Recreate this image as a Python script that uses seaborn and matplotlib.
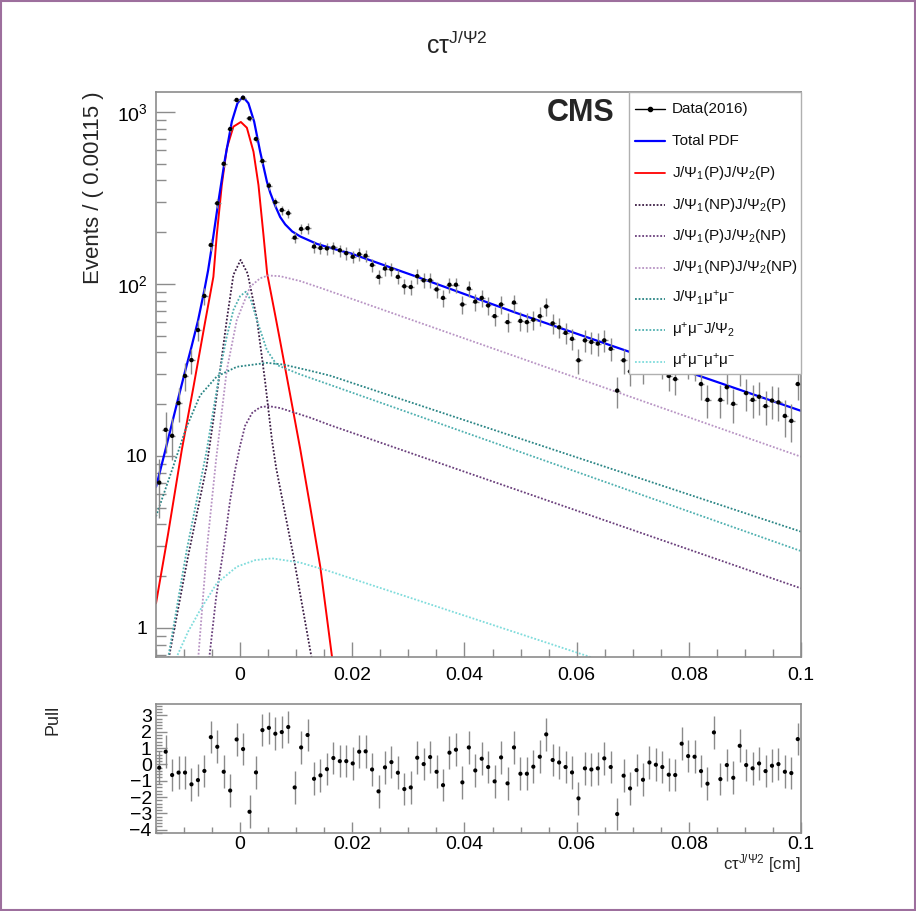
import numpy as np
import matplotlib
matplotlib.use("Agg")
import matplotlib.pyplot as plt
import seaborn as sns
from matplotlib.ticker import FixedLocator, FixedFormatter, LogLocator, MultipleLocator, NullFormatter
from matplotlib.patches import Rectangle
from matplotlib.lines import Line2D

# ---------------- data ----------------
x_lo, x_hi, n_bins = -0.015, 0.1, 100
bin_width = 0.00115

data_counts = [7.0, 14.2, 13.1, 20.3, 29.2, 36.1, 54.0, 85.2, 168.6, 294.5,
               500, 796, 1175, 1211, 918, 697, 519, 373, 299, 269,
               258, 186, 209, 211, 165, 162, 161, 163, 157, 151,
               144, 149, 146, 129, 110, 123, 122, 110, 97, 96,
               111, 105, 105, 93, 83, 99, 99, 76, 94, 79,
               83, 75, 65, 76, 60, 78, 61, 60, 62, 65,
               74, 59, 56, 52, 48, 36, 47, 46, 45, 47,
               42, 24, 36, 31, 37, 32, 37.5, 36, 34, 29.2,
               28.0, 39, 34, 33, 26.2, 21.2, 38.5, 21.2, 25.1, 20.1,
               31, 23.2, 21.2, 22.1, 19.5, 21, 20.5, 17.1, 16.0, 26.2]

pull_values = [-0.2, 0.78, -0.65, -0.5, -0.5, -1.22, -0.96, -0.4, 1.67, 1.08,
               -0.45, -1.6, 1.53, 0.94, -2.9, -0.49, 2.1, 2.24, 1.88, 1.98,
               2.29, -1.41, 1.04, 1.8, -0.88, -0.67, -0.29, 0.39, 0.2, 0.2,
               0.06, 0.78, 0.8, -0.31, -1.65, -0.18, 0.14, -0.51, -1.51, -1.41,
               0.41, 0.02, 0.45, -0.45, -1.27, 0.72, 0.9, -1.1, 1.04, -0.37,
               0.35, -0.16, -1.04, 0.43, -1.16, 1.04, -0.57, -0.57, -0.14, 0.47,
               1.84, 0.27, 0.12, -0.16, -0.49, -2.08, -0.24, -0.31, -0.24, 0.37,
               -0.16, -3.04, -0.69, -1.47, -0.35, -0.94, 0.12, -0.02, -0.16, -0.63,
               -0.65, 1.27, 0.51, 0.47, -0.41, -1.18, 1.96, -0.9, -0.04, -0.82,
               1.14, -0.04, -0.24, 0.06, -0.41, -0.08, 0.02, -0.45, -0.53, 1.55]

# fitted curves
total_x = [-0.015, -0.01327, -0.01214, -0.01098, -0.00982, -0.00868, -0.00752, -0.00638,
           -0.00571, -0.00505, -0.00388, -0.00268, -0.00148, -0.00048, 0.00048, 0.00148,
           0.0025, 0.00357, 0.00477, 0.00536, 0.00625, 0.00714, 0.00804, 0.00929,
           0.01071, 0.0137, 0.01786, 0.01964, 0.03155, 0.04941, 0.06934, 0.1]
total_y = [6.6, 11, 15.5, 22, 31, 43, 61, 92,
           120, 165, 301, 538, 879, 1124, 1228, 1124,
           879, 588, 394, 340, 285, 245, 222, 202,
           189, 171, 156, 151, 110, 67.6, 40.4, 18.3]

pp_x = [-0.015, -0.01286, -0.01041, -0.00834, -0.00625, -0.00477, -0.00416,
        -0.00327, -0.00238, -0.0012, 0.00013, 0.0012, 0.00238, 0.00327, 0.00416,
        0.00482, 0.00625, 0.00714, 0.00893, 0.01071, 0.0125, 0.01429, 0.01638, 0.01696]
pp_y = [1.39, 3.5, 10.8, 25, 60, 110, 193,
        376, 615, 822, 875, 810, 588, 376, 193,
        115, 66, 46.4, 22.6, 11.0, 5.05, 2.27, 0.68, 0.5]

npp_x = [-0.01321, -0.00929, -0.00598, -0.00477, -0.00357, -0.00238, -0.0012, 0.00009,
         0.00134, 0.00298, 0.00446, 0.00566, 0.00643, 0.00952, 0.01321]
npp_y = [0.55, 2.6, 8.7, 16.2, 31.6, 61.8, 113, 138,
         115, 63, 27, 12.5, 8.5, 2.6, 0.55]

pnp_x = [-0.0059, -0.00548, -0.00429, -0.00298, -0.00179, -0.00089, 0.0, 0.00089,
         0.00214, 0.00357, 0.00505, 0.00714, 0.00893, 0.0125, 0.01607, 0.1]
pnp_y = [0.5, 0.68, 1.5, 2.84, 5.5, 8.3, 11.5, 15,
         17.8, 19.2, 19.5, 19.0, 18.2, 16.7, 15.1, 1.70]

npnp_x = [-0.00786, -0.00745, -0.00595, -0.00429, -0.00238, -0.00059, 0.00179, 0.00357,
          0.005, 0.00714, 0.01071, 0.01429, 0.01786, 0.1]
npnp_y = [0.5, 0.68, 2.84, 9.5, 31.6, 61.8, 96.4, 108,
          112, 111, 104, 95, 86.5, 9.9]

j1mm_x = [-0.015, -0.01214, -0.00964, -0.00714, -0.00416, -0.00059, 0.00477, 0.00773,
          0.0125, 0.01607, 0.1]
j1mm_y = [4.45, 8.3, 14.5, 22.5, 29, 33, 34.8, 34, 31.3, 29.3, 3.63]

mmj2_x = [-0.01321, -0.0128, -0.00952, -0.00595, -0.00477, -0.00357, -0.00238, -0.0012,
          0.0, 0.00102, 0.00196, 0.00298, 0.00477, 0.00655, 0.01071, 0.01607, 0.1]
mmj2_y = [0.5, 0.68, 2.84, 10.8, 18.5, 31.6, 49.4, 70.6,
          85, 90.2, 80, 61.8, 41.3, 33.8, 29.8, 25.9, 2.8]

mmmm_x = [-0.01179, -0.0113, -0.00929, -0.00714, -0.00416, -0.00059, 0.00268, 0.00571,
          0.01071, 0.01607, 0.06321]
mmmm_y = [0.55, 0.68, 0.95, 1.27, 1.82, 2.27, 2.48, 2.54, 2.4, 2.13, 0.665]

legend_labels = ["Data(2016)", "Total PDF",
                 r"J/$\Psi_1$(P)J/$\Psi_2$(P)",
                 r"J/$\Psi_1$(NP)J/$\Psi_2$(P)",
                 r"J/$\Psi_1$(P)J/$\Psi_2$(NP)",
                 r"J/$\Psi_1$(NP)J/$\Psi_2$(NP)",
                 r"J/$\Psi_1$μ$^{+}$μ$^{-}$",
                 r"μ$^{+}$μ$^{-}$J/$\Psi_2$",
                 r"μ$^{+}$μ$^{-}$μ$^{+}$μ$^{-}$"]

x_ticks = [0, 0.02, 0.04, 0.06, 0.08, 0.1]
x_tick_labels = ["0", "0.02", "0.04", "0.06", "0.08", "0.1"]
y_ticks = [1, 10, 100, 1000]
y_tick_labels = ["1", "10", r"$10^{2}$", r"$10^{3}$"]

# ---------------- style ----------------
sns.set_theme(style="ticks")
plt.rcParams["font.family"] = ["Liberation Sans", "DejaVu Sans"]
plt.rcParams["mathtext.fontset"] = "custom"
plt.rcParams["mathtext.rm"] = "Liberation Sans"
plt.rcParams["mathtext.it"] = "Liberation Sans:italic"
plt.rcParams["mathtext.bf"] = "Liberation Sans:bold"
plt.rcParams["axes.unicode_minus"] = True

W, H = 916, 911
fig = plt.figure(figsize=(W / 100, H / 100), dpi=100, facecolor="white")

def fr(x0, y0, x1, y1):
    return [x0 / W, 1 - y1 / H, (x1 - x0) / W, (y1 - y0) / H]

ax = fig.add_axes(fr(156, 92, 801, 657))
axp = fig.add_axes(fr(156, 704, 801, 833))

spine_col = "#8c8c8c"
err_col = "#8a8a8a"
dot = (0, (1.0, 1.0))
curves = [
    (total_x, total_y, "#0000ff", "-", 1.6),
    (pp_x, pp_y, "#ff0000", "-", 1.4),
    (npp_x, npp_y, "#3b1d44", dot, 1.3),
    (pnp_x, pnp_y, "#6a3f7c", dot, 1.3),
    (npnp_x, npnp_y, "#b894c4", dot, 1.3),
    (j1mm_x, j1mm_y, "#2a8585", dot, 1.3),
    (mmj2_x, mmj2_y, "#4fb0b0", dot, 1.3),
    (mmmm_x, mmmm_y, "#7fdcdc", dot, 1.3),
]

ax.set_yscale("log")
for cx, cy, col, ls, lw in curves[1:] + curves[:1]:
    sns.lineplot(x=cx, y=cy, ax=ax, color=col, linestyle=ls, lw=lw,
                 estimator=None, sort=False, legend=False)

centers = x_lo + bin_width * (np.arange(n_bins) + 0.5)
counts = np.array(data_counts)
ax.errorbar(centers, counts, yerr=np.sqrt(counts), xerr=bin_width / 2,
            fmt="none", ecolor=err_col, elinewidth=1.0, zorder=4)
sns.scatterplot(x=centers, y=counts, ax=ax, color="black", s=10,
                edgecolor="none", zorder=5, legend=False)

ax.set_xlim(x_lo, x_hi)
ax.set_ylim(0.678, 1307)
ax.xaxis.set_major_locator(FixedLocator(x_ticks))
ax.xaxis.set_major_formatter(FixedFormatter(x_tick_labels))
ax.xaxis.set_minor_locator(MultipleLocator(0.005))
ax.yaxis.set_major_locator(FixedLocator(y_ticks))
ax.yaxis.set_major_formatter(FixedFormatter(y_tick_labels))
ax.yaxis.set_minor_locator(LogLocator(base=10, subs=np.arange(2, 10)))
ax.yaxis.set_minor_formatter(NullFormatter())
ax.set_xlabel("")
ax.set_ylabel("")
ax.tick_params(axis="both", which="both", direction="in", colors=spine_col,
               labelcolor="black", labelsize=14, top=False, right=False)
ax.tick_params(axis="x", which="major", length=11, width=1, pad=7)
ax.tick_params(axis="x", which="minor", length=6, width=1)
ax.tick_params(axis="y", which="major", length=14, width=1, pad=6)
ax.tick_params(axis="y", which="minor", length=7, width=1)
for sp in ax.spines.values():
    sp.set_color(spine_col)
    sp.set_linewidth(1.2)
    sp.set_visible(True)

ax.text((615 - 156) / 645, (657 - 113) / 565, "CMS", transform=ax.transAxes,
        ha="right", va="center", fontsize=22, fontweight="bold", zorder=12)

# legend box inside the axes
lx0 = (629 - 156) / 645
ly0 = (657 - 374) / 565
ax.add_patch(Rectangle((lx0, ly0), 1 - lx0, 1 - ly0, transform=ax.transAxes,
                       facecolor="white", edgecolor="#b0b0b0", lw=1.0, zorder=10,
                       clip_on=False))
leg_cols = ["black"] + [c[2] for c in curves]
leg_ls = ["-", "-", "-"] + [dot] * 6
row_py = [109, 141, 173, 204.5, 236, 267.5, 299, 330.5, 361.5]
for i, lab in enumerate(legend_labels):
    yy = (657 - row_py[i]) / 565
    xa, xb = (635 - 156) / 645, (665 - 156) / 645
    lw = 1.0 if i == 0 else (1.6 if i == 1 else 1.3)
    ax.add_line(Line2D([xa, xb], [yy, yy], transform=ax.transAxes, color=leg_cols[i],
                       linestyle=leg_ls[i], lw=lw, zorder=11, clip_on=False))
    if i == 0:
        ax.add_line(Line2D([(xa + xb) / 2], [yy], transform=ax.transAxes, marker="o",
                           markersize=3, color="black", zorder=12, clip_on=False))
    ax.text((672 - 156) / 645, yy, lab, transform=ax.transAxes, fontsize=11,
            ha="left", va="center", zorder=12, color="#111111")

# ---------------- pull panel ----------------
pulls = np.array(pull_values)
axp.errorbar(centers, pulls, yerr=np.ones(n_bins), fmt="none", ecolor=err_col,
             elinewidth=1.0, zorder=4)
sns.scatterplot(x=centers, y=pulls, ax=axp, color="black", s=9,
                edgecolor="none", zorder=5, legend=False)
axp.set_xlim(x_lo, x_hi)
axp.set_ylim(-4.2, 3.7)
axp.xaxis.set_major_locator(FixedLocator(x_ticks))
axp.xaxis.set_major_formatter(FixedFormatter(x_tick_labels))
axp.xaxis.set_minor_locator(MultipleLocator(0.005))
axp.yaxis.set_major_locator(MultipleLocator(1))
axp.yaxis.set_minor_locator(MultipleLocator(0.2))
axp.set_xlabel("")
axp.set_ylabel("")
axp.tick_params(axis="both", which="both", direction="in", colors=spine_col,
                labelcolor="black", labelsize=14, top=False, right=False)
axp.tick_params(axis="x", which="major", length=8, width=1, pad=2)
axp.tick_params(axis="x", which="minor", length=4, width=1)
axp.tick_params(axis="y", which="major", length=8, width=1, pad=3)
axp.tick_params(axis="y", which="minor", length=4, width=1)
for sp in axp.spines.values():
    sp.set_color(spine_col)
    sp.set_linewidth(1.2)
    sp.set_visible(True)

# ---------------- texts ----------------
fig.text(457 / W, 1 - 54 / H, r"c$\mathrm{\tau}^{\mathrm{J/\Psi 2}}$", ha="center",
         va="baseline", fontsize=18)
fig.text(93 / W, 1 - 91 / H, "Events / ( 0.00115 )", rotation=90, ha="center",
         va="top", fontsize=16)
fig.text(53 / W, 1 - 705 / H, "Pull", rotation=90, ha="center", va="top",
         fontsize=13)
fig.text(801 / W, 1 - 869 / H, r"c$\mathrm{\tau}^{\mathrm{J/\Psi 2}}$ [cm]", ha="right",
         va="baseline", fontsize=12)

fig.add_artist(Rectangle((0.0015, 0.0015), 0.997, 0.997, transform=fig.transFigure,
                         fill=False, edgecolor="#9d6f9d", lw=1.5))

fig.savefig("out.png", dpi=100, facecolor="white")
